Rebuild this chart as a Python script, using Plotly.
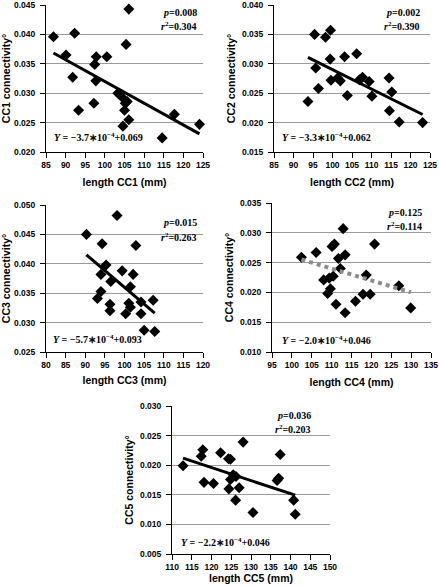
import plotly.graph_objects as go

W, H = 439, 587

# ---------------- data ----------------
names = ["CC1", "CC2", "CC3", "CC4", "CC5"]

x_cc1 = [86.9, 92.3, 90.1, 91.8, 93.3, 97.8, 97.4, 97.7, 97.2, 100.5, 106.1, 105.4,
         103.3, 104.7, 105.7, 105.2, 105.0, 106.1, 104.6, 114.6, 117.7, 124.1]
y_cc1 = [0.0396, 0.0402, 0.0365, 0.0327, 0.0271, 0.0362, 0.0349, 0.0321, 0.0283, 0.0362,
         0.0443, 0.0383, 0.0300, 0.0291, 0.0286, 0.0283, 0.0271, 0.0255, 0.0244, 0.0224,
         0.0264, 0.0247]

x_cc2 = [93.7, 95.4, 95.7, 96.4, 98.2, 99.5, 99.4, 99.6, 101.3, 102.0, 103.1, 103.8,
         106.2, 106.9, 107.7, 109.4, 110.1, 114.5, 115.2, 114.6, 117.1, 123.1]
y_cc2 = [0.0236, 0.0350, 0.0293, 0.0258, 0.0345, 0.0357, 0.0308, 0.0272, 0.0276, 0.0271,
         0.0312, 0.0246, 0.0317, 0.0273, 0.0277, 0.0270, 0.0245, 0.0276, 0.0252, 0.0220,
         0.0201, 0.0200]

x_cc3 = [90.3, 98.1, 94.3, 102.9, 95.3, 94.0, 99.4, 102.2, 96.5, 101.5, 94.0, 93.1,
         96.3, 96.3, 101.1, 101.5, 100.3, 104.2, 104.2, 107.3, 105.0, 107.7]
y_cc3 = [0.0450, 0.0482, 0.0434, 0.0431, 0.0398, 0.0382, 0.0388, 0.0382, 0.0370, 0.0361,
         0.0353, 0.0341, 0.0331, 0.0320, 0.0333, 0.0326, 0.0315, 0.0335, 0.0315, 0.0338,
         0.0287, 0.0285]

x_cc4 = [102.4, 106.1, 108.0, 109.4, 109.0, 109.7, 110.1, 110.7, 110.4, 111.1, 111.7,
         112.2, 112.9, 113.4, 113.4, 116.0, 117.9, 118.7, 119.7, 120.8, 126.9, 129.9]
y_cc4 = [0.0259, 0.0267, 0.0221, 0.0224, 0.0198, 0.0206, 0.0277, 0.0281, 0.0227, 0.0180,
         0.0257, 0.0240, 0.0307, 0.0263, 0.0166, 0.0185, 0.0197, 0.0229, 0.0197, 0.0281,
         0.0211, 0.0174]

x_cc5 = [112.8, 117.4, 117.8, 118.1, 120.5, 122.3, 124.3, 124.8, 124.4, 124.8, 125.5,
         126.2, 126.1, 127.0, 128.0, 130.5, 136.6, 137.0, 137.4, 140.8, 141.2]
y_cc5 = [0.0199, 0.0215, 0.0226, 0.0171, 0.0169, 0.0221, 0.0211, 0.0210, 0.0160, 0.0176,
         0.0184, 0.0181, 0.0141, 0.0162, 0.0239, 0.0120, 0.0174, 0.0178, 0.0218, 0.0141,
         0.0117]

# regression: slope, intercept as printed
slopes = [-3.7e-4, -3.3e-4, -5.7e-4, -2.0e-4, -2.2e-4]
intercepts = [0.069, 0.062, 0.093, 0.046, 0.046]
p_values = ["0.008", "0.002", "0.015", "0.125", "0.036"]
r2_values = ["0.304", "0.390", "0.263", "0.114", "0.203"]
eq_slope_txt = ["3.7", "3.3", "5.7", "2.0", "2.2"]
eq_icpt_txt = ["0.069", "0.062", "0.093", "0.046", "0.046"]

x_ranges = [[85, 125], [85, 125], [80, 120], [95, 135], [110, 150]]
y_ranges = [[0.020, 0.045], [0.015, 0.040], [0.025, 0.050], [0.010, 0.035], [0.005, 0.030]]

xs = [x_cc1, x_cc2, x_cc3, x_cc4, x_cc5]
ys = [y_cc1, y_cc2, y_cc3, y_cc4, y_cc5]

# ---------------- layout (pixel boxes) ----------------
# (left, right, top, bottom) in pixels
boxes = [(46, 203, 5, 152), (274, 430, 5, 152), (46, 203, 205, 352),
         (272, 431, 203, 352), (172, 330, 406, 554)]
x_title_standoff = [9, 9, 7, 9, 1]
# annotation anchor positions in px: (p/r2 right edge, p y, r2 y), (eq left, eq y)
pr_pos = [(199, 12, 26), (422, 12, 26), (199, 222, 237), (424, 212, 226), (313, 415, 429)]
eq_pos = [(52, 137), (280, 137), (51, 339), (280, 340), (179, 542)]

def fx(p):
    return p / W

def fy(p):
    return 1 - p / H

fig = go.Figure()

tick_font = dict(family="Liberation Sans, Arial, sans-serif", size=8.5, color="black", weight="bold")
title_font = dict(family="Liberation Sans, Arial, sans-serif", size=10.5, color="black", weight="bold")
ann_font = dict(family="Liberation Serif, Times New Roman, serif", size=10, color="black", weight="bold")
eq_font = dict(family="Liberation Serif, Times New Roman, serif", size=10, color="black", weight="bold")

layout_axes = {}
annotations = []
for i in range(5):
    n = "" if i == 0 else str(i + 1)
    xa, ya = "x" + n, "y" + n
    l, r, t, b = boxes[i]
    fig.add_trace(go.Scatter(
        x=xs[i], y=ys[i], mode="markers", xaxis=xa, yaxis=ya,
        marker=dict(symbol="diamond", size=8.5, color="black"),
        cliponaxis=False, showlegend=False, name=names[i]))
    x0, x1 = min(xs[i]), max(xs[i])
    lx = [x0, x1]
    ly = [slopes[i] * v + intercepts[i] for v in lx]
    if i == 3:
        line = dict(color="#8c8c8c", width=4, dash="dot")
    else:
        line = dict(color="black", width=3)
    fig.add_trace(go.Scatter(x=lx, y=ly, mode="lines", xaxis=xa, yaxis=ya,
                             line=line, showlegend=False, name=names[i] + " fit"))

    layout_axes["xaxis" + n] = dict(
        domain=[fx(l), fx(r)], range=x_ranges[i], anchor=ya, dtick=5, tick0=0,
        automargin=False, ticklabeloverflow="allow",
        showgrid=False, zeroline=False, showline=True, linecolor="black", linewidth=1,
        ticks="outside", ticklen=5, tickcolor="black", tickwidth=1, tickfont=tick_font,
        title=dict(text="length " + names[i] + " (mm)", font=title_font,
                   standoff=x_title_standoff[i]))
    layout_axes["yaxis" + n] = dict(
        domain=[fy(b), fy(t)], range=y_ranges[i], anchor=xa, dtick=0.005, tick0=0,
        automargin=False, ticklabeloverflow="allow", ticklabelstandoff=3,
        tickformat=".3f", showgrid=True, gridcolor="#9a9a9a", gridwidth=1,
        zeroline=False, showline=True, linecolor="black", linewidth=1,
        ticks="outside", ticklen=5, tickcolor="black", tickwidth=1, tickfont=tick_font,
        title=dict(text=names[i] + " connectivity°", font=title_font, standoff=4))

    rx, py, ry = pr_pos[i]
    annotations.append(dict(xref="paper", yref="paper", x=fx(rx), y=fy(py),
                            xanchor="right", yanchor="middle", showarrow=False,
                            text="<i>p</i>=" + p_values[i], font=ann_font))
    annotations.append(dict(xref="paper", yref="paper", x=fx(rx), y=fy(ry),
                            xanchor="right", yanchor="middle", showarrow=False,
                            text="<i>r</i><sup>2</sup>=" + r2_values[i], font=ann_font))
    ex, ey = eq_pos[i]
    annotations.append(dict(xref="paper", yref="paper", x=fx(ex), y=fy(ey),
                            xanchor="left", yanchor="middle", showarrow=False,
                            text="<i>Y</i> = −" + eq_slope_txt[i] + "∗10<sup>−4</sup>+" + eq_icpt_txt[i],
                            font=eq_font))

fig.update_layout(
    width=W, height=H, margin=dict(l=0, r=0, t=0, b=0, autoexpand=False),
    paper_bgcolor="white", plot_bgcolor="white",
    annotations=annotations, **layout_axes)

fig.write_html("out.html", config={"displayModeBar": False},
               post_script="document.body.style.margin='0';document.body.style.overflow='hidden';")
